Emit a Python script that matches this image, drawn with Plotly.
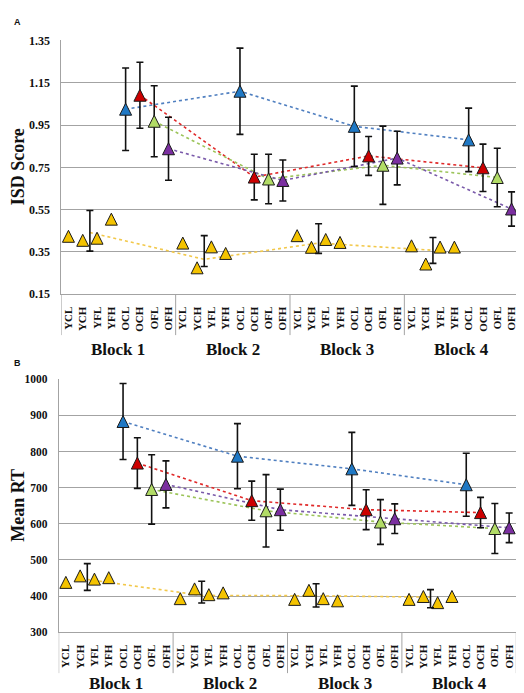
import plotly.graph_objects as go

# ---------------- data ----------------
blocks = ["Block 1", "Block 2", "Block 3", "Block 4"]
conditions = ["YCL", "YCH", "YFL", "YFH", "OCL", "OCH", "OFL", "OFH"]
young_conds = ["YCL", "YCH", "YFL", "YFH"]
old_conds = ["OCL", "OCH", "OFL", "OFH"]

# Panel A: ISD score (values per block 1..4)
isd_young = {
    "YCL": [0.424, 0.392, 0.427, 0.379],
    "YCH": [0.405, 0.275, 0.372, 0.293],
    "YFL": [0.415, 0.374, 0.409, 0.373],
    "YFH": [0.505, 0.343, 0.395, 0.373],
}
isd_young_line = [0.442, 0.315, 0.392, 0.358]
isd_young_err_center = [0.450, 0.354, 0.413, 0.357]
isd_young_err = [0.096, 0.073, 0.070, 0.061]
isd_old = {
    "OCL": [1.025, 1.110, 0.944, 0.880],
    "OCH": [1.091, 0.704, 0.804, 0.748],
    "OFL": [0.968, 0.695, 0.760, 0.702],
    "OFH": [0.838, 0.688, 0.794, 0.553],
}
isd_old_err = {
    "OCL": [0.195, 0.204, 0.190, 0.150],
    "OCH": [0.156, 0.108, 0.092, 0.112],
    "OFL": [0.168, 0.117, 0.185, 0.138],
    "OFH": [0.149, 0.097, 0.127, 0.081],
}
isd_ticks = [0.15, 0.35, 0.55, 0.75, 0.95, 1.15, 1.35]

# Panel B: Mean RT
rt_young = {
    "YCL": [438, 393, 391, 391],
    "YCH": [456, 420, 416, 399],
    "YFL": [447, 404, 393, 382],
    "YFH": [451, 409, 387, 399],
}
rt_young_line = [446, 402, 401, 397]
rt_young_err_center = [453, 411, 402, 393]
rt_young_err = [37, 30, 32, 25]
rt_old = {
    "OCL": [883, 787, 752, 708],
    "OCH": [768, 664, 639, 631],
    "OFL": [695, 636, 605, 587],
    "OFH": [709, 639, 614, 589],
}
rt_old_err = {
    "OCL": [105, 90, 101, 87],
    "OCH": [70, 54, 55, 42],
    "OFL": [96, 100, 62, 69],
    "OFH": [65, 57, 41, 41],
}
rt_ticks = [300, 400, 500, 600, 700, 800, 900, 1000]

# ---------------- styles ----------------
W, H = 524, 693
SERIF = "Liberation Serif"
fill = {"Y": "#F4C300", "OCL": "#1F78C4", "OCH": "#CC0000", "OFL": "#B2DC66", "OFH": "#7B2FA0"}
linecol = {"Y": "#F2C84A", "OCL": "#4F7FC0", "OCH": "#E02828", "OFL": "#9CC45A", "OFH": "#7A5AAA"}
GRID = "#A3A3A3"
MSIZE = 12


def px_y(p):
    return 1 - p / H


def px_x(p):
    return p / W


panels = [
    dict(xa="x", ya="y", young=isd_young, yline=isd_young_line, yerr_c=isd_young_err_center,
         yerr=isd_young_err, old=isd_old, olderr=isd_old_err),
    dict(xa="x2", ya="y2", young=rt_young, yline=rt_young_line, yerr_c=rt_young_err_center,
         yerr=rt_young_err, old=rt_old, olderr=rt_old_err),
]

fig = go.Figure()


def marker(color):
    return dict(symbol="arrow-down", angle=180, standoff=MSIZE / 2, size=MSIZE,
                color=color, line=dict(color="#1a1a1a", width=1))


for p in panels:
    # old-condition dotted lines across blocks
    for ci, c in enumerate(old_conds):
        xs = [b * 8 + 4 + ci for b in range(4)]
        fig.add_trace(go.Scatter(x=xs, y=p["old"][c], mode="lines", xaxis=p["xa"], yaxis=p["ya"],
                                 line=dict(color=linecol[c], width=1.6, dash="dot"),
                                 showlegend=False, hoverinfo="skip"))
    # young dotted line
    xs_y = [b * 8 + 1.5 for b in range(4)]
    fig.add_trace(go.Scatter(x=xs_y, y=p["yline"], mode="lines", xaxis=p["xa"], yaxis=p["ya"],
                             line=dict(color=linecol["Y"], width=1.6, dash="dot"),
                             showlegend=False, hoverinfo="skip"))
    # young markers
    xs, ys = [], []
    for b in range(4):
        for ci, c in enumerate(young_conds):
            xs.append(b * 8 + ci)
            ys.append(p["young"][c][b])
    fig.add_trace(go.Scatter(x=xs, y=ys, mode="markers", xaxis=p["xa"], yaxis=p["ya"],
                             marker=marker(fill["Y"]), showlegend=False))
    # young error bars
    fig.add_trace(go.Scatter(x=xs_y, y=p["yerr_c"], mode="markers", xaxis=p["xa"], yaxis=p["ya"],
                             marker=dict(size=1, opacity=0),
                             error_y=dict(type="data", array=p["yerr"], color="#111111",
                                          thickness=1.6, width=3.5),
                             showlegend=False, hoverinfo="skip"))
    # old markers with error bars
    for ci, c in enumerate(old_conds):
        xs = [b * 8 + 4 + ci for b in range(4)]
        fig.add_trace(go.Scatter(x=xs, y=p["old"][c], mode="markers", xaxis=p["xa"], yaxis=p["ya"],
                                 marker=marker(fill[c]),
                                 error_y=dict(type="data", array=p["olderr"][c], color="#111111",
                                              thickness=1.6, width=3.5),
                                 showlegend=False))

ticktext = conditions * 4
tickvals = list(range(32))

# panel geometry (pixels)
A_top, A_bot, A_left, A_right = 26, 285, 53.3, 510.7
B_top, B_bot, B_left, B_right = 371.7, 630, 50.7, 508.3
A_lab_bot, B_lab_bot = 326.7, 671.7

xcommon = dict(range=[-0.5, 31.5], tickvals=tickvals, ticktext=ticktext, tickangle=-90,
               tickfont=dict(family=SERIF, size=11, color="#111", weight="bold"),
               showgrid=False, zeroline=False, showline=True, linecolor=GRID, linewidth=1,
               ticks="", ticklabelstandoff=7, fixedrange=True)
ycommon = dict(showgrid=True, gridcolor=GRID, gridwidth=1, zeroline=False, showline=True,
               linecolor=GRID, linewidth=1, ticks="", ticklabelstandoff=8, fixedrange=True)

fig.update_layout(
    width=W, height=H, margin=dict(l=0, r=0, t=0, b=0),
    paper_bgcolor="white", plot_bgcolor="white", showlegend=False,
    xaxis=dict(domain=[px_x(A_left), px_x(A_right)], anchor="y", **xcommon),
    yaxis=dict(domain=[px_y(A_bot), px_y(A_top)], anchor="x", range=[0.15, 1.35],
               tickvals=isd_ticks, ticktext=[f"{v:.2f}" for v in isd_ticks],
               tickfont=dict(family=SERIF, size=12, color="#111", weight="bold"), **ycommon),
    xaxis2=dict(domain=[px_x(B_left), px_x(B_right)], anchor="y2", **xcommon),
    yaxis2=dict(domain=[px_y(B_bot), px_y(B_top)], anchor="x2", range=[300, 1000],
                tickvals=rt_ticks, ticktext=[str(v) for v in rt_ticks],
                tickfont=dict(family=SERIF, size=11.5, color="#111", weight="bold"), **ycommon),
)

shapes = []
for xa, bot, lab in [("x", A_bot, A_lab_bot), ("x2", B_bot, B_lab_bot)]:
    for xv in [-0.5, 7.5, 15.5, 23.5, 31.5]:
        shapes.append(dict(type="line", xref=xa, yref="paper", x0=xv, x1=xv,
                           y0=px_y(bot), y1=px_y(lab), line=dict(color=GRID, width=1)))
fig.update_layout(shapes=shapes)

ann = []
for xa, yb in [("x", 341), ("x2", 682)]:
    for b, name in enumerate(blocks):
        ann.append(dict(text=name, xref=xa, yref="paper", x=b * 8 + 3.5, y=px_y(yb),
                        xanchor="center", yanchor="middle", showarrow=False,
                        font=dict(family=SERIF, size=17, color="#111", weight="bold")))
ann.append(dict(text="ISD Score", xref="paper", yref="paper", x=px_x(10), y=px_y((A_top + A_bot) / 2),
                textangle=-90, xanchor="center", yanchor="middle", showarrow=False,
                font=dict(family=SERIF, size=18, color="#111", weight="bold")))
ann.append(dict(text="Mean RT", xref="paper", yref="paper", x=px_x(10), y=px_y((B_top + B_bot) / 2),
                textangle=-90, xanchor="center", yanchor="middle", showarrow=False,
                font=dict(family=SERIF, size=18, color="#111", weight="bold")))
ann.append(dict(text="A", xref="paper", yref="paper", x=px_x(4), y=px_y(7),
                xanchor="left", yanchor="middle", showarrow=False,
                font=dict(family="Liberation Sans", size=9, color="#111", weight="bold")))
ann.append(dict(text="B", xref="paper", yref="paper", x=px_x(4), y=px_y(355),
                xanchor="left", yanchor="middle", showarrow=False,
                font=dict(family="Liberation Sans", size=9, color="#111", weight="bold")))
fig.update_layout(annotations=ann)

fig.write_html("out.html")
